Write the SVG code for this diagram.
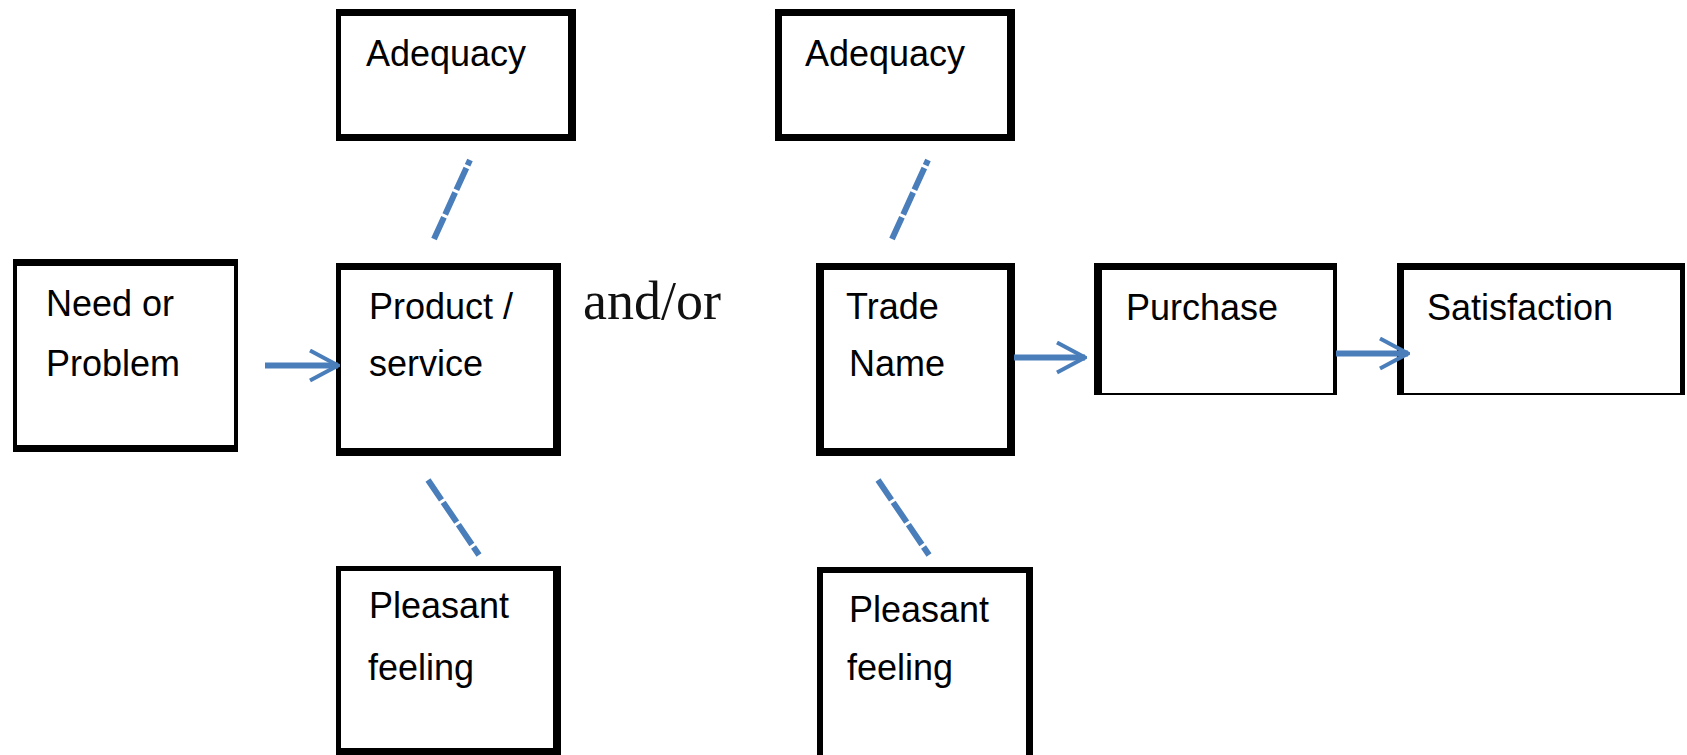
<svg xmlns="http://www.w3.org/2000/svg" width="1687" height="755" viewBox="0 0 1687 755">
<style>
.o{fill:#000}
.i{fill:#fff}
.t{font-family:"Liberation Sans",Arial,sans-serif;font-size:36px;fill:#000}
.s{font-family:"Liberation Serif","Times New Roman",serif;font-size:54px;fill:#111}
.a{stroke:#4A7EBB;stroke-width:6;fill:none}
.d{stroke:#4A7EBB;stroke-width:6;fill:none;stroke-dasharray:24 3}
</style>
<defs>
<marker id="chev" viewBox="0 0 32 34" markerWidth="32" markerHeight="34" markerUnits="userSpaceOnUse" refX="30" refY="17" orient="auto">
<path d="M2,2 L30,17 L2,32" stroke="#4A7EBB" stroke-width="4" fill="none"/>
</marker>
</defs>
<rect width="1687" height="755" fill="#fff"/>
<g id="need">
<rect class="o" x="13" y="259" width="225" height="193"/>
<rect class="i" x="17" y="266" width="217" height="179"/>
<text class="t" x="46" y="316">Need or</text>
<text class="t" x="46" y="376">Problem</text>
</g>
<g id="product">
<rect class="o" x="336" y="263" width="225" height="193"/>
<rect class="i" x="341" y="270" width="212" height="178"/>
<text class="t" x="369" y="319">Product /</text>
<text class="t" x="369" y="376">service</text>
</g>
<g id="adequacy1">
<rect class="o" x="336" y="9" width="240" height="132"/>
<rect class="i" x="341" y="16" width="227" height="118"/>
<text class="t" x="366" y="66">Adequacy</text>
</g>
<g id="andor">
<text class="s" x="583" y="319">and/or</text>
</g>
<g id="adequacy2">
<rect class="o" x="775" y="9" width="240" height="132"/>
<rect class="i" x="782" y="16" width="225" height="118"/>
<text class="t" x="805" y="66">Adequacy</text>
</g>
<g id="trade">
<rect class="o" x="816" y="263" width="199" height="193"/>
<rect class="i" x="824" y="270" width="183" height="178"/>
<text class="t" x="846" y="319">Trade</text>
<text class="t" x="849" y="376">Name</text>
</g>
<g id="purchase">
<rect class="o" x="1094" y="263" width="243" height="132"/>
<rect class="i" x="1102" y="270" width="231" height="123"/>
<text class="t" x="1126" y="320">Purchase</text>
</g>
<g id="satisfaction">
<rect class="o" x="1397" y="263" width="288" height="132"/>
<rect class="i" x="1404" y="270" width="276" height="123"/>
<text class="t" x="1427" y="320">Satisfaction</text>
</g>
<g id="pleasant1">
<rect class="o" x="336" y="566" width="225" height="189"/>
<rect class="i" x="341" y="571" width="212" height="177"/>
<text class="t" x="369" y="618">Pleasant</text>
<text class="t" x="368" y="680">feeling</text>
</g>
<g id="pleasant2">
<rect class="o" x="817" y="567" width="216" height="188"/>
<rect class="i" x="823" y="573" width="203" height="182"/>
<text class="t" x="849" y="622">Pleasant</text>
<text class="t" x="847" y="680">feeling</text>
</g>
<g id="connectors">
<line class="a" x1="265" y1="365.5" x2="338" y2="365.5" marker-end="url(#chev)"/>
<line class="a" x1="1014" y1="357.5" x2="1085" y2="357.5" marker-end="url(#chev)"/>
<line class="a" x1="1336" y1="353.5" x2="1408" y2="353.5" marker-end="url(#chev)"/>
<line class="d" x1="434" y1="239" x2="470" y2="160"/>
<line class="d" x1="892" y1="239" x2="928" y2="160"/>
<line class="d" x1="428" y1="480" x2="479" y2="555"/>
<line class="d" x1="878" y1="480" x2="929" y2="555"/>
</g>
</svg>
